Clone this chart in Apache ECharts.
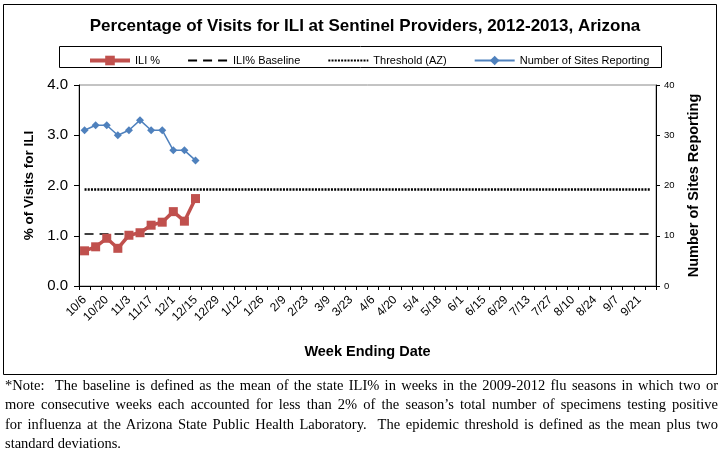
<!DOCTYPE html>
<html>
<head>
<meta charset="utf-8">
<script src="https://cdn.jsdelivr.net/npm/echarts@6/dist/echarts.min.js"></script>
<style>
html,body{margin:0;padding:0;background:#fff;}
#chart{position:absolute;left:0;top:0;width:723px;height:450px;}
#note{position:absolute;left:5px;top:376px;width:713px;font-family:"Liberation Serif","Times New Roman",serif;font-size:14.5px;line-height:19.3px;color:#000;}
#note span{display:block;text-align:justify;text-align-last:justify;white-space:nowrap;}
#note span.last{text-align-last:left;}
</style>
</head>
<body>
<div id="chart"></div>
<div id="note">
<span>*Note:&nbsp; The baseline is defined as the mean of the state ILI% in weeks in the 2009-2012 flu seasons in which two or</span>
<span>more consecutive weeks each accounted for less than 2% of the season’s total number of specimens testing positive</span>
<span>for influenza at the Arizona State Public Health Laboratory.&nbsp; The epidemic threshold is defined as the mean plus two</span>
<span class="last">standard deviations.</span>
</div>
<script>
const weeks = ["10/6","10/13","10/20","10/27","11/3","11/10","11/17","11/24","12/1","12/8","12/15","12/22","12/29",
  "1/5","1/12","1/19","1/26","2/2","2/9","2/16","2/23","3/2","3/9","3/16","3/23","3/30",
  "4/6","4/13","4/20","4/27","5/4","5/11","5/18","5/25","6/1","6/8","6/15","6/22","6/29",
  "7/6","7/13","7/20","7/27","8/3","8/10","8/17","8/24","8/31","9/7","9/14","9/21","9/28"];
const iliPct = [0.70, 0.78, 0.95, 0.75, 1.01, 1.06, 1.21, 1.27, 1.48, 1.29, 1.74];
const sitesReporting = [31, 32, 32, 30, 31, 33, 31, 31, 27, 27, 25];
const iliBaseline = 1.035;
const thresholdAZ = 1.92;
const leftTicks = ["0.0","1.0","2.0","3.0","4.0"];

const chart = echarts.init(document.getElementById('chart'), null, {renderer:'canvas'});
const font = '"Liberation Sans", Arial, sans-serif';
const hidden = {color:'rgba(0,0,0,0)', borderWidth:0, opacity:0};
chart.setOption({
  animation:false,
  backgroundColor:'#fff',
  textStyle:{fontFamily:font},
  title:{
    text:'Percentage of Visits for ILI at Sentinel Providers, 2012-2013, Arizona',
    left:360, top:13, textAlign:'center',
    textStyle:{fontSize:17, fontWeight:'bold', color:'#000', fontFamily:font}
  },
  legend:{
    left:83, top:50, itemWidth:40, itemHeight:12, itemGap:27,
    textStyle:{fontSize:11, color:'#000', fontFamily:font},
    data:[
      {name:'ILI %', lineStyle:{width:4}},
      {name:'ILI% Baseline', itemStyle:hidden},
      {name:'Threshold (AZ)', itemStyle:hidden},
      {name:'Number of Sites Reporting'}
    ]
  },
  graphic:[
    {type:'rect', shape:{x:3.5,y:4.5,width:713,height:370}, style:{fill:null, stroke:'#000', lineWidth:1}, silent:true, z:-1},
    {type:'rect', shape:{x:59.5,y:46.5,width:602,height:21}, style:{fill:null, stroke:'#000', lineWidth:1}, silent:true, z:-1}
  ],
  grid:{left:79, right:67, top:85, bottom:164, show:true, borderColor:'#888', borderWidth:1},
  xAxis:{
    type:'category', data:weeks, boundaryGap:true,
    name:'Week Ending Date', nameLocation:'middle', nameGap:58,
    nameTextStyle:{fontSize:14.5, fontWeight:'bold', color:'#000'},
    axisLine:{lineStyle:{color:'#000', width:1}},
    axisTick:{show:true, interval:0, length:4, lineStyle:{color:'#000'}},
    axisLabel:{interval:1, rotate:45, fontSize:12, color:'#000', margin:12}
  },
  yAxis:[
    {type:'value', min:0, max:4, interval:1, position:'left',
     name:'% of Visits for ILI', nameLocation:'middle', nameGap:40,
     nameTextStyle:{fontSize:13.5, fontWeight:'bold', color:'#000'},
     axisLine:{show:true, lineStyle:{color:'#000'}},
     axisTick:{show:true, length:5, lineStyle:{color:'#000'}},
     splitLine:{show:false},
     axisLabel:{fontSize:15, color:'#000', margin:11, formatter:(v)=>leftTicks[Math.round(v)]}
    },
    {type:'value', min:0, max:40, interval:10, position:'right',
     name:'Number of Sites Reporting', nameLocation:'middle', nameGap:30,
     nameTextStyle:{fontSize:14.5, fontWeight:'bold', color:'#000'},
     axisLine:{show:true, lineStyle:{color:'#000'}},
     axisTick:{show:true, length:4, lineStyle:{color:'#000'}},
     splitLine:{show:false},
     axisLabel:{fontSize:9.5, color:'#000', margin:8}
    }
  ],
  series:[
    {name:'ILI %', type:'line', yAxisIndex:0, data:iliPct,
     symbol:'rect', symbolSize:9, showAllSymbol:true, z:5,
     lineStyle:{color:'#C0504D', width:3.5}, itemStyle:{color:'#C0504D'}},
    {name:'ILI% Baseline', type:'line', yAxisIndex:0, data:weeks.map(()=>iliBaseline),
     symbol:'none', lineStyle:{color:'#000', width:1.5, type:[9,6]}, itemStyle:{color:'#000'}},
    {name:'Threshold (AZ)', type:'line', yAxisIndex:0, data:weeks.map(()=>thresholdAZ),
     symbol:'none', lineStyle:{color:'#000', width:2.5, type:[2,1.2]}, itemStyle:{color:'#000'}},
    {name:'Number of Sites Reporting', type:'line', yAxisIndex:1, data:sitesReporting,
     symbol:'diamond', symbolSize:8, showAllSymbol:true, z:4,
     lineStyle:{color:'#4F81BD', width:1.5}, itemStyle:{color:'#4F81BD'}}
  ]
});
</script>
</body>
</html>
